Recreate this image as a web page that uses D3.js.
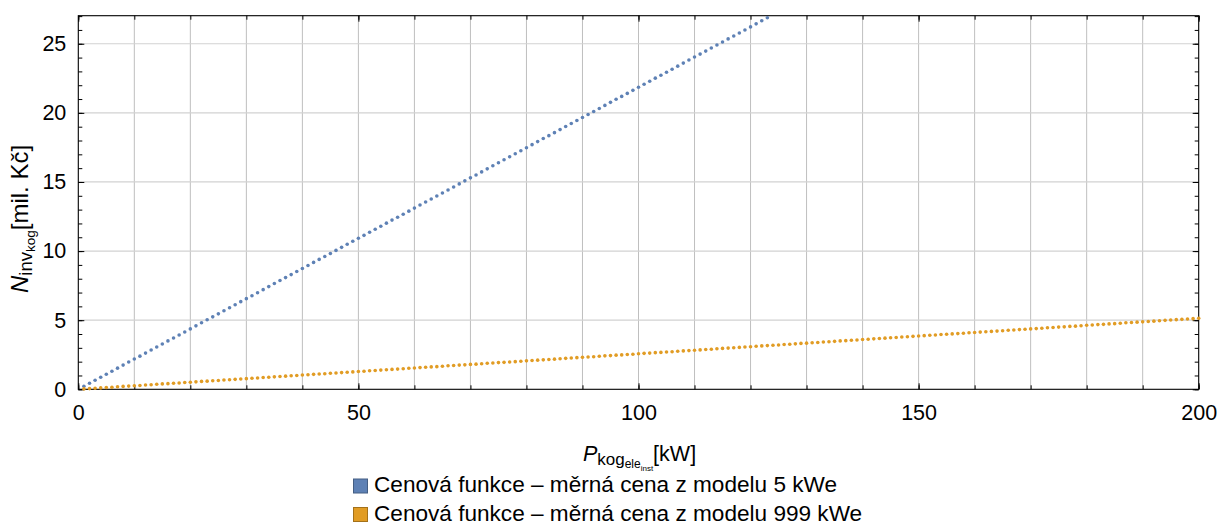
<!DOCTYPE html>
<html>
<head>
<meta charset="utf-8">
<script src="https://cdn.jsdelivr.net/npm/d3@7"></script>
<style>
  html, body { margin: 0; padding: 0; background: #fff; }
  svg { display: block; font-family: "Liberation Sans", Arial, sans-serif; }
</style>
</head>
<body>
<svg id="chart" width="1220" height="525"></svg>
<script>
// ---- data ----
// x: installed electric power [kW], sampled every 1 kW
const powerBlue = d3.range(1, 124);
const powerOrange = d3.range(1, 201);

// Series 1: specific price from model 5 kWe [mil. Kč]
const costModel5 = [
  0.22,0.44,0.66,0.87,1.09,1.31,1.53,1.75,1.97,2.19,
  2.40,2.62,2.84,3.06,3.28,3.50,3.71,3.93,4.15,4.37,
  4.59,4.81,5.03,5.24,5.46,5.68,5.90,6.12,6.34,6.56,
  6.77,6.99,7.21,7.43,7.65,7.87,8.08,8.30,8.52,8.74,
  8.96,9.18,9.40,9.61,9.83,10.05,10.27,10.49,10.71,10.93,
  11.14,11.36,11.58,11.80,12.02,12.24,12.45,12.67,12.89,13.11,
  13.33,13.55,13.77,13.98,14.20,14.42,14.64,14.86,15.08,15.30,
  15.51,15.73,15.95,16.17,16.39,16.61,16.82,17.04,17.26,17.48,
  17.70,17.92,18.14,18.35,18.57,18.79,19.01,19.23,19.45,19.67,
  19.88,20.10,20.32,20.54,20.76,20.98,21.19,21.41,21.63,21.85,
  22.07,22.29,22.51,22.72,22.94,23.16,23.38,23.60,23.82,24.04,
  24.25,24.47,24.69,24.91,25.13,25.35,25.56,25.78,26.00,26.22,
  26.44,26.66,26.88
];

// Series 2: specific price from model 999 kWe [mil. Kč]
const costModel999 = [
  0.03,0.05,0.08,0.10,0.13,0.15,0.18,0.21,0.23,0.26,
  0.28,0.31,0.33,0.36,0.39,0.41,0.44,0.46,0.49,0.51,
  0.54,0.57,0.59,0.62,0.64,0.67,0.69,0.72,0.75,0.77,
  0.80,0.82,0.85,0.87,0.90,0.93,0.95,0.98,1.00,1.03,
  1.05,1.08,1.11,1.13,1.16,1.18,1.21,1.23,1.26,1.29,
  1.31,1.34,1.36,1.39,1.41,1.44,1.46,1.49,1.52,1.54,
  1.57,1.59,1.62,1.64,1.67,1.70,1.72,1.75,1.77,1.80,
  1.82,1.85,1.88,1.90,1.93,1.95,1.98,2.00,2.03,2.06,
  2.08,2.11,2.13,2.16,2.18,2.21,2.24,2.26,2.29,2.31,
  2.34,2.36,2.39,2.42,2.44,2.47,2.49,2.52,2.54,2.57,
  2.60,2.62,2.65,2.67,2.70,2.72,2.75,2.78,2.80,2.83,
  2.85,2.88,2.90,2.93,2.96,2.98,3.01,3.03,3.06,3.08,
  3.11,3.14,3.16,3.19,3.21,3.24,3.26,3.29,3.32,3.34,
  3.37,3.39,3.42,3.44,3.47,3.50,3.52,3.55,3.57,3.60,
  3.62,3.65,3.68,3.70,3.73,3.75,3.78,3.80,3.83,3.86,
  3.88,3.91,3.93,3.96,3.98,4.01,4.03,4.06,4.09,4.11,
  4.14,4.16,4.19,4.21,4.24,4.27,4.29,4.32,4.34,4.37,
  4.39,4.42,4.45,4.47,4.50,4.52,4.55,4.57,4.60,4.63,
  4.65,4.68,4.70,4.73,4.75,4.78,4.81,4.83,4.86,4.88,
  4.91,4.93,4.96,4.99,5.01,5.04,5.06,5.09,5.11,5.14
];

const seriesNames = [
  "Cenová funkce – měrná cena z modelu 5 kWe",
  "Cenová funkce – měrná cena z modelu 999 kWe"
];
const seriesColors = ["#5e81b5", "#e19c24"];

const xMajorTicks = [0, 50, 100, 150, 200];
const xMinorTicks = d3.range(0, 201, 10);
const yMajorTicks = [0, 5, 10, 15, 20, 25];
const yMinorTicks = d3.range(0, 28, 1);
const xDomain = [0, 200];
const yDomain = [0, 27.03];

// ---- layout ----
const L = 78.3, R = 1198.7, T = 15.7, B = 389.3;
const svg = d3.select("#chart");
const x = d3.scaleLinear().domain(xDomain).range([L, R]);
const y = d3.scaleLinear().domain(yDomain).range([B, T]);

// grid
const grid = svg.append("g");
grid.selectAll("line.vg").data(xMinorTicks.filter(d => d > 0 && d < 200)).join("line")
  .attr("x1", d => x(d)).attr("x2", d => x(d)).attr("y1", T).attr("y2", B)
  .attr("stroke", "#bfbfbf").attr("stroke-width", 1);
grid.selectAll("line.hg").data(yMajorTicks.filter(d => d > 0)).join("line")
  .attr("x1", L).attr("x2", R).attr("y1", d => y(d)).attr("y2", d => y(d))
  .attr("stroke", "#d2d2d2").attr("stroke-width", 1.2);

// axes (ticks inward)
function styleAxis(g) {
  g.select(".domain").remove();
  g.selectAll(".tick line").attr("stroke", "#000");
  g.selectAll(".tick text").attr("font-size", 21.5).attr("fill", "#000")
    .attr("font-family", "'Liberation Sans', Arial, sans-serif");
}
// bottom minor
svg.append("g").attr("transform", `translate(0,${B})`)
  .call(d3.axisBottom(x).tickValues(xMinorTicks).tickSize(-4).tickFormat(""))
  .call(styleAxis);
// bottom major with labels
svg.append("g").attr("transform", `translate(0,${B})`)
  .call(d3.axisBottom(x).tickValues(xMajorTicks).tickSize(-6).tickPadding(15).tickFormat(d3.format("d")))
  .call(styleAxis)
  .call(g => g.selectAll(".tick text").attr("dy", "0.71em"));
// top
svg.append("g").attr("transform", `translate(0,${T})`)
  .call(d3.axisTop(x).tickValues(xMinorTicks).tickSize(-4).tickFormat(""))
  .call(styleAxis);
svg.append("g").attr("transform", `translate(0,${T})`)
  .call(d3.axisTop(x).tickValues(xMajorTicks).tickSize(-6).tickFormat(""))
  .call(styleAxis);
// left minor + major
svg.append("g").attr("transform", `translate(${L},0)`)
  .call(d3.axisLeft(y).tickValues(yMinorTicks).tickSize(-4).tickFormat(""))
  .call(styleAxis);
svg.append("g").attr("transform", `translate(${L},0)`)
  .call(d3.axisLeft(y).tickValues(yMajorTicks).tickSize(-6).tickPadding(12).tickFormat(d3.format("d")))
  .call(styleAxis);
// right
svg.append("g").attr("transform", `translate(${R},0)`)
  .call(d3.axisRight(y).tickValues(yMinorTicks).tickSize(-4).tickFormat(""))
  .call(styleAxis);
svg.append("g").attr("transform", `translate(${R},0)`)
  .call(d3.axisRight(y).tickValues(yMajorTicks).tickSize(-6).tickFormat(""))
  .call(styleAxis);

// frame
svg.append("rect").attr("x", L).attr("y", T).attr("width", R - L).attr("height", B - T)
  .attr("fill", "none").attr("stroke", "#000").attr("stroke-width", 1.1);

// points
const series = [
  { xs: powerBlue, ys: costModel5, color: seriesColors[0] },
  { xs: powerOrange, ys: costModel999, color: seriesColors[1] }
];
series.forEach(s => {
  svg.append("g").selectAll("circle")
    .data(s.ys.map((v, i) => [s.xs[i], v]))
    .join("circle")
    .attr("cx", d => x(d[0])).attr("cy", d => y(d[1])).attr("r", 1.8)
    .attr("fill", s.color);
});

// axis titles
const xt = svg.append("text").attr("x", (L + R) / 2 + 1).attr("y", 461)
  .attr("text-anchor", "middle").attr("font-size", 21.5).attr("fill", "#000");
xt.append("tspan").attr("font-style", "italic").text("P");
xt.append("tspan").attr("font-size", 17).attr("dy", 4).text("kog");
xt.append("tspan").attr("font-size", 12).attr("dy", 3).text("ele");
xt.append("tspan").attr("font-size", 8).attr("dy", 2.5).text("inst");
xt.append("tspan").attr("dy", -9.5).text("[kW]");

const yt = svg.append("text")
  .attr("transform", `translate(28,${219}) rotate(-90)`)
  .attr("text-anchor", "middle").attr("font-size", 24).attr("fill", "#000");
yt.append("tspan").attr("font-style", "italic").text("N");
yt.append("tspan").attr("font-size", 18.5).attr("dy", 4).text("inv");
yt.append("tspan").attr("font-size", 13.5).attr("dy", 3).text("kog");
yt.append("tspan").attr("dy", -7).text("[mil. Kč]");

// legend
const lg = svg.append("g");
seriesNames.forEach((name, i) => {
  const gy = 478.5 + i * 28.5;
  lg.append("rect").attr("x", 353.5).attr("y", gy + 0.5).attr("width", 14).attr("height", 14)
    .attr("fill", seriesColors[i]).attr("stroke", d3.color(seriesColors[i]).darker(0.9)).attr("stroke-width", 1);
  lg.append("text").attr("x", 374).attr("y", gy + 13.5).attr("font-size", 22.6).attr("fill", "#000")
    .text(name);
});
</script>
</body>
</html>
